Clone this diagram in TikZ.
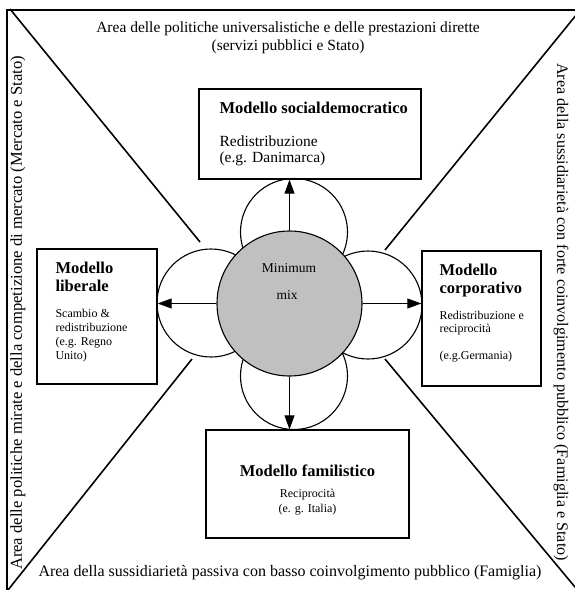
\documentclass[tikz,border=0pt]{standalone}
\usepackage{fontspec}
\setmainfont{Liberation Serif}
\usepackage{xcolor}
\definecolor{mixgray}{RGB}{192,192,192}
\usetikzlibrary{arrows.meta, positioning}

\begin{document}
\begin{tikzpicture}[x=1pt, y=-1pt,
    box/.style={draw, line width=1.3pt, inner sep=0pt},
    petal/.style={draw, circle, line width=1.1pt, fill=white, inner sep=0pt, minimum size=107pt},
    divider/.style={line width=1.6pt},
    flow/.style={-{Triangle[length=14pt, width=10pt]}, line width=0.9pt},
    areatext/.style={font=\fontsize{15.5}{18}\selectfont, align=center},
    boxtitle/.style={font=\fontsize{16.5}{18}\selectfont\bfseries, anchor=base west},
    bigtext/.style={font=\fontsize{15.5}{16}\selectfont, anchor=base west},
    smalltext/.style={font=\fontsize{12}{14}\selectfont, anchor=base west}]
  \useasboundingbox (0,0) rectangle (575,590);
  % Frame (top and left edges)
  \draw[line width=1.3pt] (575,10) -- (7,10) -- (7,590);
  % Diagonals from the corners
  \coordinate (tl) at (10,9);
  \coordinate (tlend) at (200,242);
  \coordinate (tr) at (577,14);
  \coordinate (trend) at (385,250);
  \coordinate (bl) at (8,590);
  \coordinate (blend) at (192,359);
  \coordinate (br) at (580,593);
  \coordinate (brend) at (385,359);
  \draw[divider] (tl) -- (tlend);
  \draw[divider] (tr) -- (trend);
  \draw[divider] (bl) -- (blend);
  \draw[divider] (br) -- (brend);
  % Area labels
  \node[areatext] (uni) at (288,38) {Area delle politiche universalistiche e delle prestazioni dirette\\(servizi pubblici e Stato)};
  \node[areatext, font=\fontsize{16}{18}\selectfont] (pas) at (290,573) {Area della sussidiarietà passiva con basso coinvolgimento pubblico (Famiglia)};
  \node[areatext, font=\fontsize{16.6}{18}\selectfont, rotate=90] (mir) at (18,313) {Area delle politiche mirate e della competizione di mercato (Mercato e Stato)};
  \node[areatext, font=\fontsize{16.1}{18}\selectfont, rotate=-90] (sus) at (561,312) {Area della sussidiarietà con forte coinvolgimento pubblico (Famiglia e Stato)};
  % Petals and minimum mix
  \node[petal] (ptop) at (294,232) {};
  \node[petal] (pbot) at (294,376) {};
  \node[petal, minimum size=108pt] (pleft) at (211,303) {};
  \node[petal, minimum size=108pt] (pright) at (368,305) {};
  \node[draw, circle, line width=1.1pt, fill=mixgray, minimum size=145pt, inner sep=0pt] (mix) at (289.5,303.5) {};
  \node[font=\fontsize{13.5}{16}\selectfont, anchor=base] (minimum) at (289,272) {Minimum};
  \node[font=\fontsize{13.5}{16}\selectfont, anchor=base] (mixlabel) at (287,299) {mix};
  % Model boxes
  \node[box, minimum width=222pt, minimum height=90pt] (sdbox) at (310,134) {};
  \node[box, minimum width=120pt, minimum height=135pt] (libbox) at (97,316.5) {};
  \node[box, minimum width=119pt, minimum height=135pt] (corbox) at (481.5,318.5) {};
  \node[box, minimum width=203pt, minimum height=108pt] (fambox) at (307.5,484) {};
  % Box texts
  \node[boxtitle] (sdtitle) at (216,113) {Modello socialdemocratico};
  \node[bigtext] (sdred) at (216,146) {Redistribuzione};
  \node[bigtext] (sdex) at (216,162) {(e.g. Danimarca)};
  \node[boxtitle] (libtitle) at (52,273) {Modello};
  \node[boxtitle] (libtitleb) at (52,291) {liberale};
  \node[smalltext] (libsc) at (52,317) {Scambio \&};
  \node[smalltext] (libred) at (52,331) {redistribuzione};
  \node[smalltext] (libex) at (52,345) {(e.g. Regno};
  \node[smalltext] (libexb) at (52,359) {Unito)};
  \node[boxtitle] (cortitle) at (436,275) {Modello};
  \node[boxtitle] (cortitleb) at (436,293) {corporativo};
  \node[smalltext] (corred) at (436,319) {Redistribuzione e};
  \node[smalltext] (correc) at (436,332) {reciprocità};
  \node[smalltext] (corex) at (436,359) {(e.g.Germania)};
  \node[boxtitle, anchor=base] (famtitle) at (307.5,476) {Modello familistico};
  \node[smalltext, anchor=base] (famrec) at (307.5,497) {Reciprocità};
  \node[smalltext, anchor=base] (famex) at (307.5,512) {(e. g. Italia)};
  % Arrows out of the mix
  \draw[flow] (mix.north) -- (mix.north |- sdbox.south);
  \draw[flow] (mix.south) -- (mix.south |- fambox.north);
  \draw[flow] (mix.west) -- (mix.west -| libbox.east);
  \draw[flow] (mix.east) -- (mix.east -| corbox.west);
\end{tikzpicture}
\end{document}
